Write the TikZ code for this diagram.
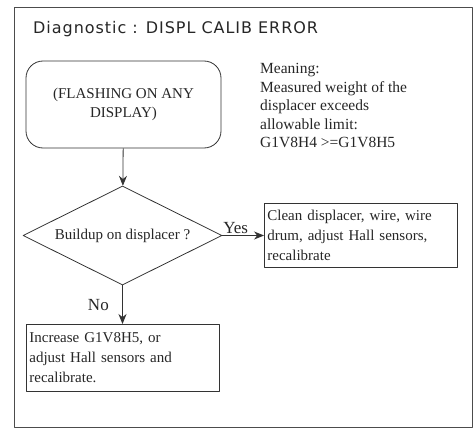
\documentclass[tikz,border=0pt]{standalone}
\usepackage{fontspec}
\setmainfont{Liberation Serif}
\newfontfamily\titlefont[LetterSpace=6]{DejaVu Sans}
\usetikzlibrary{shapes.geometric,arrows.meta}

\begin{document}
\begin{tikzpicture}[x=1pt,y=-1pt,>={Stealth[length=10pt,width=8pt]},line join=round,
  every node/.style={text=black!85,font=\fontsize{15}{18.4}\selectfont},
  actbox/.style={draw=black!80,line width=.8pt,anchor=north west,align=left,
    inner sep=3pt,font=\fontsize{15}{20}\selectfont},
  flow/.style={->,draw=black!80,line width=.8pt},
  answer/.style={font=\fontsize{17}{20}\selectfont}]
  \useasboundingbox (0,0) rectangle (475,428);
  \draw[black!70,line width=.9pt] (14,7) rectangle (472,427);
  \node[anchor=base west,inner sep=0pt,font=\titlefont\fontsize{16}{18}\selectfont] (title) at (33,34)
    {Diagnostic : DISPL CALIB ERROR};
  \node[draw=black!80,line width=.8pt,rounded corners=17pt,minimum width=195pt,
    minimum height=87pt,align=center] (flash) at (123.5,104.5)
    {(FLASHING ON ANY\\DISPLAY)};
  \node[anchor=north west,align=left,inner sep=0pt,font=\fontsize{15.5}{18.4}\selectfont]
    (meaning) at (260,63.5)
    {Meaning:\\Measured weight of the\\displacer exceeds\\allowable limit:\\G1V8H4 >=G1V8H5};
  \node[diamond,aspect=2,draw=black!80,line width=.8pt,inner sep=0pt,minimum width=199pt,
    minimum height=99pt] (buildup) at (122.5,235.5) {Buildup on displacer ?};
  \node[actbox,text width=187pt,minimum height=64pt] (clean) at (264,203)
    {Clean displacer, wire, wire\\drum, adjust Hall sensors,\\recalibrate};
  \node[actbox,text width=187pt,minimum height=67pt] (increase) at (26,324)
    {Increase G1V8H5, or\\adjust Hall sensors and\\recalibrate.};
  \draw[flow] (flash) -- (buildup);
  \draw[flow] (buildup.east) -- node[pos=.32,above=-2pt,answer] {Yes} (clean.west |- buildup.east);
  \draw[flow] (buildup.south) -- node[midway,left=10pt,answer] {No} (increase.north -| buildup.south);
\end{tikzpicture}
\end{document}
